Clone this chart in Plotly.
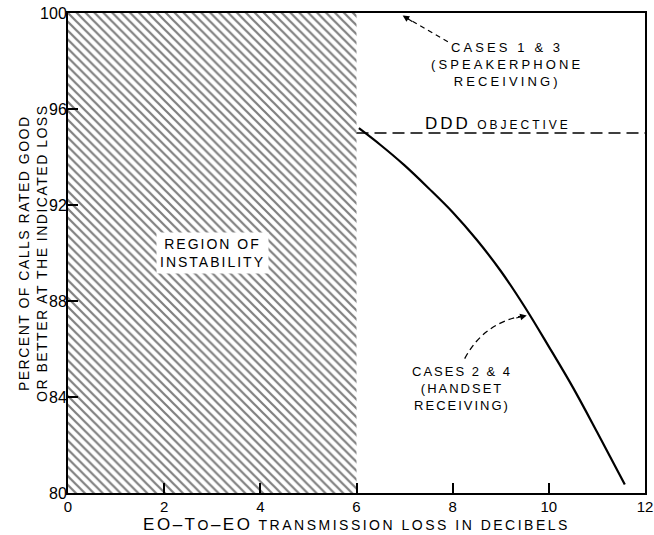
import plotly.graph_objects as go

# handset receiving curve (cases 2 & 4)
loss_db = [6.05, 6.5, 7.0, 7.5, 8.0, 8.5, 9.0, 9.5, 10.0, 10.5, 11.0, 11.58]
pct_good = [95.2, 94.5, 93.65, 92.7, 91.7, 90.55, 89.25, 87.75, 86.1, 84.4, 82.55, 80.35]

# region of instability (hatched)
unstable_x = [0, 6, 6, 0, 0]
unstable_y = [80, 80, 100, 100, 80]

ddd_objective = 95

x_ticks = [0, 2, 4, 6, 8, 10, 12]
y_ticks = [80, 84, 88, 92, 96, 100]

FONT = "Liberation Sans"


def spaced(txt, px=2):
    # hand lettering on the original is widely spaced
    return f"<span style='letter-spacing:{px}px'>{txt}</span>"


fig = go.Figure()

fig.add_trace(go.Scatter(
    x=unstable_x, y=unstable_y,
    mode="lines", line=dict(width=0),
    fill="toself", fillcolor="white",
    fillpattern=dict(shape="\\", size=6.3, solidity=0.35,
                     fgcolor="black", bgcolor="white"),
    hoverinfo="skip", showlegend=False,
))

fig.add_trace(go.Scatter(
    x=loss_db, y=pct_good,
    mode="lines", line=dict(color="black", width=2.2, shape="spline"),
    showlegend=False,
))

# DDD objective line
fig.add_trace(go.Scatter(
    x=[6, 12], y=[ddd_objective, ddd_objective],
    mode="lines", line=dict(color="black", width=1.5, dash="12px,6px"),
    showlegend=False,
))

# dashed arrow shafts
fig.add_shape(type="line", x0=7.9, y0=98.8, x1=7.0, y1=99.85,
              line=dict(color="black", width=1.2, dash="5px,4px"))
fig.add_shape(type="path", path="M 8.25,85.6 Q 8.645,87.1 9.5,87.4",
              line=dict(color="black", width=1.3, dash="6px,4px"))

# arrow heads
fig.add_annotation(x=6.96, y=99.9, ax=11, ay=7, text="", showarrow=True,
                   arrowhead=2, arrowsize=1.2, arrowwidth=1.1, arrowcolor="black")
fig.add_annotation(x=9.54, y=87.4, ax=-12, ay=3, text="", showarrow=True,
                   arrowhead=2, arrowsize=1.2, arrowwidth=1.1, arrowcolor="black")

fig.add_annotation(x=9.13, y=97.85,
                   text=spaced("CASES 1 & 3", 3.1) + "<br>" + spaced("(SPEAKERPHONE", 3.1)
                   + "<br>" + spaced("RECEIVING)", 3.1),
                   showarrow=False, font=dict(family=FONT, size=13, color="black"))
fig.add_annotation(x=8.94, y=95.4, yanchor="middle",
                   text=spaced("<span style='font-size:17px'>DDD</span> OBJECTIVE", 3),
                   showarrow=False, font=dict(family=FONT, size=12, color="black"))
fig.add_annotation(x=8.2, y=84.35,
                   text=spaced("CASES 2 & 4") + "<br>" + spaced("(HANDSET") + "<br>" + spaced("RECEIVING)"),
                   showarrow=False, font=dict(family=FONT, size=13, color="black"))
fig.add_annotation(x=3.0, y=90.0,
                   text=spaced("REGION OF") + "<br>" + spaced("INSTABILITY"),
                   bgcolor="white", borderpad=3,
                   showarrow=False, font=dict(family=FONT, size=14, color="black"))

# y-axis title, placed by hand so it sits where the original has it
fig.add_annotation(xref="paper", yref="paper", x=0, y=0.5, xshift=-35,
                   xanchor="center", yanchor="middle", textangle=-90,
                   text=spaced("PERCENT OF CALLS RATED GOOD", 1.5) + "<br>"
                   + spaced("OR BETTER AT THE INDICATED LOSS", 1.5),
                   showarrow=False, font=dict(family=FONT, size=14, color="black"))

fig.update_layout(
    width=654, height=535,
    margin=dict(l=68, r=9, t=13, b=42),
    paper_bgcolor="white", plot_bgcolor="white",
    font=dict(family=FONT, color="black"),
    showlegend=False,
)

fig.update_xaxes(
    range=[0, 12], tickvals=x_ticks, ticks="inside", ticklen=10, tickwidth=1.5,
    tickcolor="black", showline=True, linecolor="black", linewidth=2, mirror=True,
    showgrid=False, zeroline=False, tickfont=dict(size=15), automargin=False,
    ticklabelstandoff=-1,
    title=dict(text=spaced("<span style='font-size:17px'>EO–T</span>O"
                           "<span style='font-size:17px'>–EO</span>"
                           " TRANSMISSION LOSS IN DECIBELS", 2.5),
               font=dict(size=14), standoff=1),
)
fig.update_yaxes(
    range=[80, 100], tickvals=y_ticks, ticks="inside", ticklen=10, tickwidth=1.5,
    tickcolor="black", showline=True, linecolor="black", linewidth=2, mirror=True,
    showgrid=False, zeroline=False, tickfont=dict(size=16), automargin=False,
    ticklabelstandoff=-4,
)

# drop the default 8px body margin so the figure fills the window
fig.write_html("out.html", config={"displayModeBar": False},
               post_script="document.body.style.margin='0';")
